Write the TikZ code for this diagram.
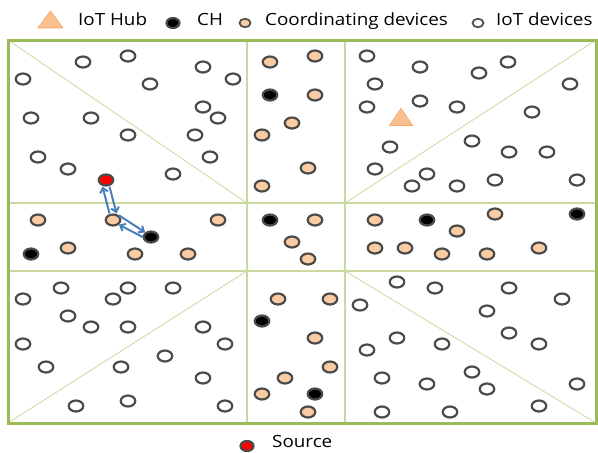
\documentclass[tikz,border=0pt]{standalone}
\usepackage{fontspec}
\setmainfont{Open Sans}
\usetikzlibrary{shapes.geometric,arrows.meta}
\definecolor{frameg}{RGB}{155,187,89}
\definecolor{gridg}{RGB}{200,218,160}
\definecolor{peach}{RGB}{251,204,163}
\definecolor{ring}{RGB}{75,75,75}
\definecolor{arrblue}{RGB}{74,126,187}
\definecolor{trifill}{RGB}{250,192,143}
\definecolor{triedge}{RGB}{247,170,110}
\begin{document}
\begin{tikzpicture}[x=1pt,y=-1pt,
  dev/.style={ellipse,minimum width=14.5pt,minimum height=11pt,inner sep=0pt,line width=2.2pt,draw=ring},
  iot/.style={dev,fill=white},
  coord/.style={dev,fill=peach},
  ch/.style={dev,fill=black},
  src/.style={dev,fill=red},
  small/.style={minimum width=11pt,minimum height=8.5pt,line width=1.7pt},
  lab/.style={anchor=base west,inner sep=0pt,font=\fontsize{16.8}{18}\selectfont},
  tri/.style={fill=trifill,draw=triedge,line width=0.8pt,line join=round},
  arr/.style={arrblue,line width=2pt,-{Straight Barb[length=4.5pt,width=8pt]}},
  gridline/.style={gridg,line width=1.5pt},
  diag/.style={gridg,line width=0.8pt}]
\useasboundingbox (0,0) rectangle (598,453);
\fill[white] (0,0) rectangle (598,453);

% grid
\draw[gridline] (247,40)--(247,423) (345,40)--(345,423) (8,203)--(596,203) (8,271)--(596,271);
\draw[diag] (8,40)--(247,203) (345,203)--(596,40) (8,423)--(247,271) (345,271)--(596,423);
\draw[frameg,line width=3pt] (8,40) rectangle (596,423);

% IoT devices
\foreach [count=\i] \p in {(83,62),(128,56),(203,67),(233,79),(23,79),(150,84),(31,118),(91,118),(203,107),(218,118),(128,135),(195,135),(38,157),(210,157),(68,169),(173,174),
 (367,56),(420,67),(479,73),(508,62),(375,84),(570,84),(367,107),(420,101),(457,107),(532,112),(390,147),(472,141),(509,152),(547,152),(375,169),(427,174),(412,186),(457,186),(495,180),(577,180),
 (61,288),(128,288),(173,288),(23,299),(113,299),(68,316),(91,327),(128,327),(203,327),(23,344),(225,344),(165,356),(46,367),(121,367),(203,378),(76,406),(128,401),(225,406),
 (397,282),(435,288),(509,288),(562,299),(360,305),(487,311),(509,333),(397,338),(442,344),(539,344),(367,350),(382,378),(472,372),(427,384),(487,389),(577,384),(382,412),(450,412),(539,406)}
  \node[iot] (d\i) at \p {};

% coordinating devices
\foreach [count=\i] \p in {(270,62),(315,56),(315,95),(292,123),(262,135),(308,168),(262,186),
 (38,220),(218,220),(68,248),(135,254),(188,254),(315,220),(292,242),(308,259),(375,220),(495,214),(457,231),(375,248),(405,248),(442,254),(487,254),(539,248),
 (278,299),(330,299),(315,338),(330,367),(285,378),(262,394),(308,412)}
  \node[coord] (c\i) at \p {};
\node[coord] (cA) at (113,220) {};

% cluster heads
\foreach [count=\i] \p in {(270,95),(270,220),(31,254),(427,220),(577,214),(262,321),(315,394)}
  \node[ch] (h\i) at \p {};
\node[ch] (hA) at (151,237) {};

% source
\node[src] (s) at (106,180) {};

% hub
\draw[tri] (389.5,125.5) -- (412.5,125.5) -- (401,108.5) -- cycle;

% arrows
\draw[arr] ([xshift=-3.5pt]cA.north) -- ([xshift=-3.5pt]s.south);
\draw[arr] ([xshift=3.5pt]s.south) -- ([xshift=3.5pt]cA.north);
\draw[arr] (cA.north east) -- (hA.north west);
\draw[arr] (hA.west) -- (cA.south east);

% legend
\draw[tri] (38,28) -- (63,28) -- (50.5,11) -- cycle;
\node[lab] (t1) at (78,25) {\scalebox{1.12}[1]{IoT Hub}};
\node[ch,minimum width=13pt,minimum height=10pt] (lch) at (173,23) {};
\node[lab] (t2) at (197,25) {\scalebox{1.12}[1]{CH}};
\node[coord,small] (lco) at (245,23) {};
\node[lab] (t3) at (265,25) {\scalebox{1.12}[1]{Coordinating devices}};
\node[iot,small] (lio) at (478,23) {};
\node[lab] (t4) at (496,25) {\scalebox{1.12}[1]{IoT devices}};
\node[src,minimum width=13pt,minimum height=10pt] (lsr) at (247,446) {};
\node[lab] (t5) at (272,447) {\scalebox{1.12}[1]{Source}};
\end{tikzpicture}
\end{document}
